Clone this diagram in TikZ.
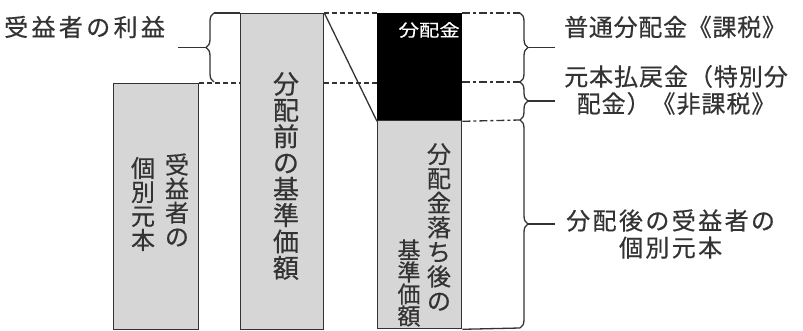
\documentclass[tikz,border=0pt]{standalone}
\usepackage{fontspec}
\newfontfamily\jp{Noto Sans CJK JP}[FakeBold=0.5]
\usetikzlibrary{positioning, decorations.pathreplacing}
\definecolor{barfill}{HTML}{D6D6D6}
\definecolor{inkgray}{HTML}{333333}
\newcommand{\jpsize}[2]{\jp\fontsize{#1}{#2}\selectfont}
\newcommand{\jpwide}[1]{\jp\fontsize{24}{27}\selectfont\addfontfeatures{LetterSpace=#1}}

\begin{document}
\begin{tikzpicture}[x=1pt, y=-1pt,
    bar/.style={draw=inkgray, line width=1.3pt, fill=barfill, anchor=north west, inner sep=0pt},
    vcol/.style={align=center, inner sep=0pt, text=inkgray},
    sidetext/.style={anchor=west, inner sep=0pt, text=inkgray, align=center},
    guide/.style={draw=inkgray, line width=1.3pt, dash pattern=on 5pt off 3pt},
    guidedot/.style={draw=inkgray, line width=1.3pt, dash pattern=on 8pt off 3pt on 3pt off 3pt},
    brc/.style={draw=inkgray, line width=1.3pt, decorate, decoration={brace, amplitude=8pt}}]
        \useasboundingbox (0,0) rectangle (803,331);

        % Bars
        \node[bar, minimum width=85pt, minimum height=246pt] (base) at (113,83) {};
        \node[bar, minimum width=83pt, minimum height=316pt] (before) at (240,13) {};
        \node[bar, fill=black, draw=black, minimum width=84pt, minimum height=107pt] (dist) at (377,13) {};
        \node[bar, minimum width=84pt, minimum height=208pt] (after) at (377,120) {};

        % Vertical texts in the bars
        \node[vcol, font=\jpsize{24}{24}] (t1a) at (177,200) {受\\益\\者\\の};
        \node[vcol, font=\jpsize{24}{24}] (t1b) at (143,204) {個\\別\\元\\本};
        \node[vcol, font=\jpsize{26}{26.3}] (t2) at (286,176) {分\\配\\前\\の\\基\\準\\価\\額};
        \node[vcol, font=\jpsize{24}{24.5}] (t3a) at (439,227) {分\\配\\金\\落\\ち\\後\\の};
        \node[vcol, font=\jpsize{23}{22}] (t3b) at (409,283) {基\\準\\価\\額};
        \node[anchor=east, inner sep=0pt, text=white, xscale=1.2, font=\jpsize{17}{18}] (t4) at (460,30) {分配金};

        % Guide lines
        \coordinate (lt) at (214,13);
        \coordinate (lb) at (214,82);
        \draw[guide] (base.north east) -- (before.north west |- base.north east);
        \draw[line width=1.3pt, inkgray] (lt) -- (before.north west);
        \draw[guide] (before.north east) -- (dist.north west);
        \draw[guide] (before.east |- base.north) -- (dist.west |- base.north);
        \draw[line width=1.3pt, inkgray] (before.north east) -- (dist.south west);

        \coordinate (r1) at (520,13);
        \coordinate (r2) at (520,82);
        \coordinate (r3) at (520,120);
        \coordinate (r4) at (520,328);
        \draw[guidedot] (dist.north east) -- (r1);
        \draw[guidedot] (dist.east |- r2) -- (r2);
        \draw[guidedot] (dist.south east) -- (r3);
        \draw[line width=1.3pt, inkgray] (after.south east) -- (r4);

        % Braces
        \draw[brc] (lb) -- (lt);
        \draw[brc] (r1) -- (r2);
        \draw[brc] (r2) -- (r3);
        \draw[brc] (r3) -- (r4);
        \draw[line width=1.3pt, inkgray] (206,47.5) -- (178,47.5);
        \draw[line width=1.3pt, inkgray] (528,47.5) -- (555,47.5);
        \draw[line width=1.3pt, inkgray] (528,101) -- (555,101);
        \draw[line width=1.3pt, inkgray] (528,224) -- (555,224);

        % Labels
        \node[sidetext, font=\jpwide{14}] (profit) at (4,27) {受益者の利益};
        \node[sidetext, font=\jpwide{3}] (taxed) at (564,27) {普通分配金《課税》};
        \node[sidetext, font=\jpwide{4}] (refund) at (564,90) {元本払戻金（特別分\\配金）《非課税》};
        \node[sidetext, font=\jpwide{10}] (principal) at (566,234) {分配後の受益者の\\個別元本};
    \end{tikzpicture}
\end{document}
